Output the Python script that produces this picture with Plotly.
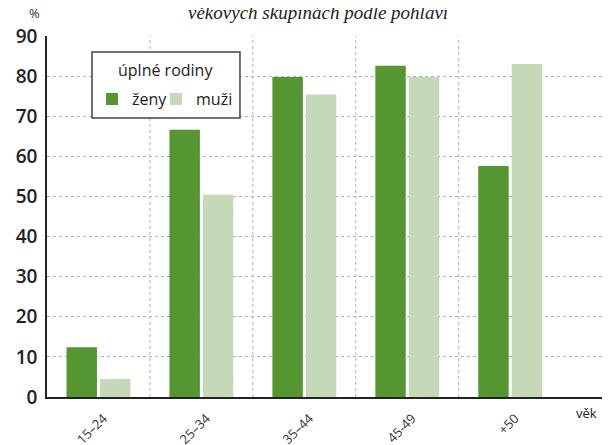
import plotly.graph_objects as go

categories = ["15–24", "25–34", "35–44", "45-49", "+50"]
zeny = [12.4, 66.6, 79.8, 82.6, 57.6]
muzi = [4.5, 50.4, 75.4, 79.8, 83.0]
y_ticks = [0, 10, 20, 30, 40, 50, 60, 70, 80, 90]

C_Z = "#559632"
C_M = "#c5d8b7"

fig = go.Figure()
fig.add_trace(go.Bar(name="ženy", x=categories, y=zeny, legend="legend",
                     marker=dict(color=C_Z, line=dict(width=0))))
fig.add_trace(go.Bar(name="muži", x=categories, y=muzi, legend="legend2",
                     marker=dict(color=C_M, line=dict(width=0))))

# interior vertical dashed separators between categories
for i in range(len(categories) - 1):
    fig.add_shape(type="line", xref="x", yref="paper", x0=i + 0.5, x1=i + 0.5, y0=0, y1=1,
                  line=dict(color="#b0b0b0", width=1, dash="3px,3px"), layer="below")
# legend frame
fig.add_shape(type="rect", xref="paper", yref="paper", x0=0.0802, x1=0.344, y0=0.773, y1=0.956,
              line=dict(color="#444444", width=1.5), fillcolor="white", layer="above")

leg_common = dict(orientation="h", bgcolor="rgba(0,0,0,0)", borderwidth=0,
                  font=dict(size=16, color="#222222"), itemwidth=30,
                  yanchor="top", xanchor="left")

fig.update_layout(
    width=610, height=445,
    margin=dict(l=39, r=10, t=28, b=56, autoexpand=False),
    paper_bgcolor="white", plot_bgcolor="white",
    barmode="group", bargap=0.35, bargroupgap=0.09,
    showlegend=True,
    font=dict(family="Open Sans", color="#222222"),
    legend=dict(x=0.0802, y=0.872, **leg_common),
    legend2=dict(x=0.1943, y=0.872, **leg_common),
    xaxis=dict(
        type="category", range=[-0.5, 4.95], automargin=False,
        showline=True, linecolor="#222222", linewidth=1.5,
        showgrid=False, ticks="", tickangle=-45,
        tickfont=dict(size=13, color="#333333"),
        ticklabelstandoff=7, ticklabelshift=5,
    ),
    yaxis=dict(
        range=[0, 90], tickvals=y_ticks, automargin=False,
        showline=True, linecolor="#222222", linewidth=1.5, mirror=True,
        showgrid=True, gridcolor="#b0b0b0", griddash="3px,3px", gridwidth=1,
        ticks="", tickfont=dict(family="Open Sans", size=19, color="#222222", weight=600),
        ticklabelstandoff=4,
        zeroline=False,
    ),
)

fig.add_annotation(text="úplné rodiny", xref="paper", yref="paper", x=0.212, y=0.906,
                   xanchor="center", yanchor="middle", showarrow=False,
                   font=dict(size=16, color="#222222"))
fig.add_annotation(text="věkových skupinách podle pohlaví", xref="paper", yref="paper",
                   x=0.485, y=1.066, yanchor="middle", showarrow=False,
                   font=dict(family="Liberation Serif", size=19, color="#222222", style="italic"))
fig.add_annotation(text="%", xref="paper", yref="paper", x=-0.023, y=1.064,
                   xanchor="center", yanchor="middle",
                   showarrow=False, font=dict(size=13, color="#333333"))
fig.add_annotation(text="věk", xref="paper", yref="paper", x=0.961, y=-0.044,
                   xanchor="center", yanchor="middle",
                   showarrow=False, font=dict(size=13, color="#222222"))

fig.write_html("out.html")
